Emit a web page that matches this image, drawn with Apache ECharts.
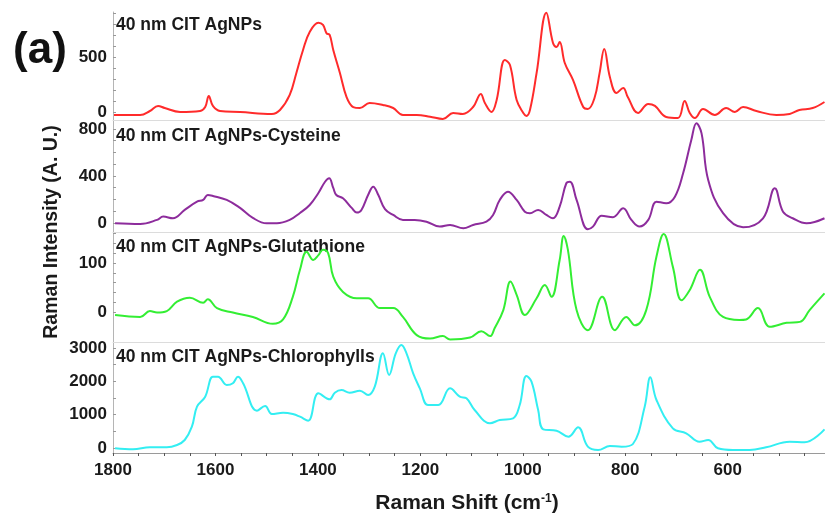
<!DOCTYPE html>
<html>
<head>
<meta charset="utf-8">
<script src="https://cdn.jsdelivr.net/npm/echarts@6/dist/echarts.min.js"></script>
<style>
  html, body { margin: 0; padding: 0; background: #fff; }
  #chart { width: 825px; height: 519px; }
</style>
</head>
<body>
<div id="chart"></div>
<script>
// Raman spectra of 40 nm citrate-capped AgNPs with different adsorbates
const panelTitles = [
  '40 nm CIT AgNPs',
  '40 nm CIT AgNPs-Cysteine',
  '40 nm CIT AgNPs-Glutathione',
  '40 nm CIT AgNPs-Chlorophylls'
];

const xTickLabels = [1800, 1600, 1400, 1200, 1000, 800, 600];

// Raman shift (cm-1) and intensity (A. U.) for each spectrum
const citShift = [1798,1747,1728,1712,1699,1669,1630,1620,1613,1605,1591,1552,1490,1474,1455,1442,1429,1416,1399,1390,1383,1377,1370,1357,1344,1331,1318,1299,1273,1253,1234,1207,1181,1156,1136,1117,1097,1082,1074,1061,1051,1035,1025,1012,999,993,986,973,954,941,934,928,918,902,882,873,860,850,841,830,817,804,795,775,755,742,720,697,684,674,664,648,625,603,586,570,544,505,479,460,434,411];
const citIntensity = [-27,-27,9,55,36,0,9,45,145,55,9,0,-18,18,155,355,564,727,812,791,715,700,564,355,136,45,36,82,64,36,-27,-27,-43,-64,-9,-18,45,164,82,0,109,473,427,109,-9,-36,18,355,903,627,591,636,445,291,45,27,127,355,573,318,173,218,136,-9,73,55,-45,-55,100,-9,-55,27,-27,36,0,45,9,-27,-18,18,36,91];

const cysShift = [1796,1747,1714,1702,1683,1660,1636,1624,1615,1605,1578,1552,1527,1500,1480,1455,1435,1416,1399,1386,1378,1370,1364,1351,1334,1324,1315,1302,1292,1282,1269,1253,1234,1211,1188,1162,1142,1116,1097,1071,1058,1045,1029,1012,996,986,970,954,941,928,915,908,895,873,863,846,824,804,788,772,755,739,720,703,687,671,661,651,638,609,570,531,508,492,473,446,411];
const cysIntensity = [-3,-9,26,54,40,111,181,196,238,230,196,128,43,-3,-3,26,85,153,255,351,380,298,238,210,128,88,111,238,309,238,117,68,26,26,11,-31,-17,-45,-17,11,68,196,266,196,96,83,111,68,40,139,338,351,196,-54,-31,62,49,125,26,-31,26,181,168,224,423,706,848,763,366,83,-37,40,295,96,40,-3,40];

const gshShift = [1796,1747,1728,1714,1695,1675,1650,1624,1615,1597,1566,1527,1488,1468,1449,1435,1422,1409,1399,1390,1380,1370,1351,1324,1302,1279,1253,1234,1207,1181,1156,1142,1103,1081,1064,1055,1038,1024,1012,996,973,957,944,928,920,912,895,873,845,820,798,781,759,739,725,707,690,674,654,635,609,577,564,541,518,485,459,440,411];
const gshIntensity = [-6,-10,2,-1,2,21,29,19,26,8,-1,-10,-24,-15,31,86,123,106,116,127,120,72,41,28,28,8,8,-10,-47,-54,-49,-56,-52,-39,-49,-33,4,62,35,-6,28,55,31,106,155,127,4,-37,31,-37,-10,-27,4,113,159,92,24,45,86,31,-10,-16,-15,8,-30,-22,-20,4,38];

const chlShift = [1796,1761,1728,1695,1675,1660,1646,1636,1620,1605,1595,1578,1566,1556,1546,1519,1503,1490,1468,1449,1435,1419,1399,1377,1367,1354,1338,1318,1302,1289,1273,1261,1248,1237,1227,1214,1201,1185,1165,1142,1123,1110,1094,1064,1045,1019,1006,993,983,970,960,934,911,892,873,853,830,807,785,762,751,739,707,681,655,638,619,590,557,525,479,450,411];
const chlIntensity = [-9,-39,21,21,90,240,639,1239,1539,2139,2139,1890,1941,2139,1941,1119,1260,1020,1059,1020,939,819,1641,1461,1659,1740,1659,1719,1590,1839,2841,2190,2841,3090,2841,2241,1791,1290,1290,1791,1539,1491,1140,741,840,891,1290,2160,1989,1140,561,519,339,621,39,-60,60,39,120,1239,2121,1440,591,441,189,240,-9,-60,-60,21,189,171,561];

const shifts = [citShift, cysShift, gshShift, chlShift];
const intensities = [citIntensity, cysIntensity, gshIntensity, chlIntensity];
const colors = ['#ff2b2b', '#8d2c9c', '#33ee33', '#33eef2'];

// per-panel y labels, minor tick step and value range
const yLabelValues = [[0, 500], [0, 400, 800], [0, 100], [0, 1000, 2000, 3000]];
const yTickStep = [100, 100, 20, 500];
const yRange = [[-73, 909], [-77, 868], [-61, 161], [-150, 3150]];
const gridBox = [[12, 108], [121, 111], [233, 109], [343, 110]];

function range(a, b, step) {
  const out = [];
  for (let v = a; v <= b; v += step) out.push(v);
  return out;
}
const plain = v => String(v);

const FONT = '"Liberation Sans", Arial, sans-serif';
const chart = echarts.init(document.getElementById('chart'), null, { renderer: 'canvas' });

const grids = [], xAxes = [], yAxes = [], series = [];
for (let i = 0; i < 4; i++) {
  const isBottom = i === 3;
  grids.push({ left: 113, right: 0, top: gridBox[i][0], height: gridBox[i][1] });
  xAxes.push({
    type: 'value', gridIndex: i, inverse: true, min: 410, max: 1800,
    splitLine: { show: false },
    axisLine: { show: true, onZero: false, lineStyle: { color: isBottom ? '#9a9a9a' : '#dcdcdc', width: 1 } },
    axisTick: isBottom
      ? { show: true, inside: false, length: 3, customValues: range(450, 1800, 50), lineStyle: { color: '#555' } }
      : { show: false },
    axisLabel: isBottom
      ? { show: true, customValues: xTickLabels, formatter: plain, fontFamily: FONT, fontWeight: 'bold', fontSize: 17, color: '#1a1a1a', margin: 9 }
      : { show: false }
  });
  const [ymin, ymax] = yRange[i];
  yAxes.push({
    type: 'value', gridIndex: i, min: ymin, max: ymax,
    splitLine: { show: false },
    axisLine: { show: true, lineStyle: { color: '#b5b5b5', width: 1 } },
    axisTick: { show: true, inside: true, length: 3,
      customValues: range(0, ymax, yTickStep[i]), lineStyle: { color: '#999' } },
    axisLabel: { show: true, customValues: yLabelValues[i], formatter: plain, fontFamily: FONT, fontWeight: 'bold',
      fontSize: 17, color: '#1a1a1a', margin: 6 }
  });
  series.push({
    type: 'line', xAxisIndex: i, yAxisIndex: i,
    data: shifts[i].map((s, k) => [s, intensities[i][k]]),
    showSymbol: false, smooth: 0.4,
    lineStyle: { color: colors[i], width: 2 },
    itemStyle: { color: colors[i] },
    clip: true, silent: true
  });
}

const titleTop = [26, 137, 248, 358];
const graphics = panelTitles.map((t, i) => ({
  type: 'text', left: 116, top: titleTop[i] - 10,
  style: { text: t, font: 'bold 17.5px ' + FONT, fill: '#1a1a1a' }
}));
graphics.push({
  type: 'text', x: 40, y: 51,
  style: { text: '(a)', font: 'bold 44px ' + FONT, fill: '#111', align: 'center', verticalAlign: 'middle' }
});
graphics.push({
  type: 'text', x: 52, y: 232, rotation: Math.PI / 2,
  style: { text: 'Raman Intensity (A. U.)', font: 'bold 19.5px ' + FONT, fill: '#1a1a1a', align: 'center', verticalAlign: 'middle' }
});
graphics.push({
  type: 'text', x: 467, y: 503,
  style: {
    text: 'Raman Shift (cm{sup|-1})', font: 'bold 21px ' + FONT, fill: '#1a1a1a',
    align: 'center', verticalAlign: 'middle',
    rich: { sup: { font: 'bold 12px ' + FONT, fill: '#1a1a1a', verticalAlign: 'top', padding: [0, 0, 9, 0] } }
  }
});

chart.setOption({
  animation: false,
  backgroundColor: '#fff',
  grid: grids,
  xAxis: xAxes,
  yAxis: yAxes,
  series: series,
  graphic: graphics
});
</script>
</body>
</html>
